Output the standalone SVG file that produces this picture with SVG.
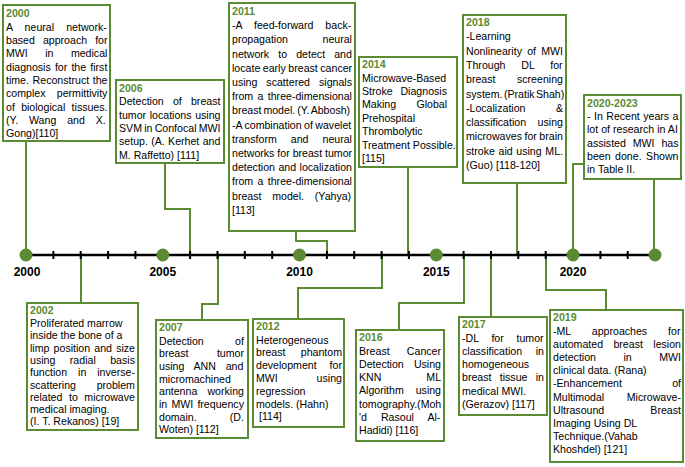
<svg xmlns="http://www.w3.org/2000/svg" width="685" height="467" viewBox="0 0 685 467">
<style>
.bg{fill:#fff}
.box{fill:#fff;stroke:#5a8a32;stroke-width:2}
text{font-family:"Liberation Sans",Arial,sans-serif;font-size:10.6px;fill:#000}
.h{font-weight:bold;fill:#5a8a32}
.yr{font-family:"Liberation Sans Narrow","Liberation Sans",Arial,sans-serif;font-weight:bold;font-size:12px;text-anchor:middle;fill:#000}
.conn{fill:none;stroke:#5a8a32;stroke-width:2}
.axis{stroke:#000;stroke-width:2.5}
.tick{stroke:#000;stroke-width:2}
.dot{fill:#5a8a32}
</style>
<rect class="bg" x="0" y="0" width="685" height="467"/>

<g id="connectors">
<path class="conn" d="M26,141V255"/>
<path class="conn" d="M165,163V209H190V255"/>
<path class="conn" d="M296,231V241H327V255"/>
<path class="conn" d="M408,167V255"/>
<path class="conn" d="M517,183V255"/>
<path class="conn" d="M584,164H573V255"/>
<path class="conn" d="M654,179V255"/>
<path class="conn" d="M81,255V303"/>
<path class="conn" d="M218,255V304H202V320"/>
<path class="conn" d="M382,255V288H298V319"/>
<path class="conn" d="M464,255V303H399V330"/>
<path class="conn" d="M491,255V317"/>
<path class="conn" d="M546,255V290H606V310"/>
</g>

<g id="timeline">
<line class="axis" x1="26" y1="255" x2="655" y2="255"/>
<path class="tick" d="M53.4,251V259M80.7,251V259M108.1,251V259M135.4,251V259M190.1,251V259M217.5,251V259M244.8,251V259M272.2,251V259M326.9,251V259M354.2,251V259M381.6,251V259M408.9,251V259M463.6,251V259M491,251V259M518.3,251V259M545.7,251V259M600.4,251V259M627.7,251V259"/>
<circle class="dot" cx="26" cy="255" r="6.5"/>
<circle class="dot" cx="162.8" cy="255" r="6.5"/>
<circle class="dot" cx="299.5" cy="255" r="6.5"/>
<circle class="dot" cx="436.3" cy="255" r="6.5"/>
<circle class="dot" cx="573" cy="255" r="6.5"/>
<circle class="dot" cx="655" cy="255" r="6.5"/>
<text class="yr" x="27" y="276">2000</text>
<text class="yr" x="162.8" y="276">2005</text>
<text class="yr" x="299.5" y="276">2010</text>
<text class="yr" x="436.3" y="276">2015</text>
<text class="yr" x="573" y="276">2020</text>
</g>

<g id="node-2000">
<rect class="box" x="3" y="5" width="107" height="136"/>
<text class="h" x="6" y="17">2000</text>
<text x="6" y="30.8" word-spacing="9.2">A neural network-</text>
<text x="6" y="44.1" word-spacing="5.1">based approach for</text>
<text x="6" y="57.4" word-spacing="14.5">MWI in medical</text>
<text x="6" y="70.7" word-spacing="1.2">diagnosis for the first</text>
<text x="6" y="84" word-spacing="0.7">time. Reconstruct the</text>
<text x="6" y="97.3" word-spacing="8.4">complex permittivity</text>
<text x="6" y="110.6" word-spacing="3.35">of biological tissues.</text>
<text x="6" y="123.9" word-spacing="7.9">(Y. Wang and X.</text>
<text x="6" y="137.2">Gong)[110]</text>
</g>

<g id="node-2006">
<rect class="box" x="116" y="80" width="108" height="83"/>
<text class="h" x="119" y="92">2006</text>
<text x="119" y="105.3" word-spacing="6.25">Detection of breast</text>
<text x="119" y="118.6" word-spacing="0.7">tumor locations using</text>
<text x="119" y="131.9" word-spacing="-0.7">SVM in Confocal MWI</text>
<text x="119" y="145.2" word-spacing="0.4">setup. (A. Kerhet and</text>
<text x="119" y="158.5">M. Raffetto) [111]</text>
</g>

<g id="node-2011">
<rect class="box" x="229" y="3" width="126" height="228"/>
<text class="h" x="232" y="15">2011</text>
<text x="232" y="29.2" word-spacing="9">-A feed-forward back-</text>
<text x="232" y="43.4" word-spacing="31.6">propagation neural</text>
<text x="232" y="57.6" word-spacing="6.2">network to detect and</text>
<text x="232" y="71.8" word-spacing="-0.4">locate early breast cancer</text>
<text x="232" y="86" word-spacing="6.1">using scattered signals</text>
<text x="232" y="100.2" word-spacing="1.4">from a three-dimensional</text>
<text x="232" y="114.4" word-spacing="-1">breast model. (Y. Abbosh)</text>
<text x="232" y="128.6" word-spacing="-0.5">-A combination of wavelet</text>
<text x="232" y="142.8" word-spacing="11.1">transform and neural</text>
<text x="232" y="157" word-spacing="0">networks for breast tumor</text>
<text x="232" y="171.2" word-spacing="0.5">detection and localization</text>
<text x="232" y="185.4" word-spacing="1.4">from a three-dimensional</text>
<text x="232" y="199.6" word-spacing="7.85">breast model. (Yahya)</text>
<text x="232" y="213.8">[113]</text>
</g>

<g id="node-2014">
<rect class="box" x="359" y="57" width="98" height="110"/>
<text class="h" x="362" y="68">2014</text>
<text x="362" y="81.5">Microwave-Based</text>
<text x="362" y="94.9" word-spacing="4.9">Stroke Diagnosis</text>
<text x="362" y="108.3" word-spacing="17.3">Making Global</text>
<text x="362" y="121.7">Prehospital</text>
<text x="362" y="135.1">Thrombolytic</text>
<text x="362" y="148.5">Treatment Possible.</text>
<text x="362" y="161.9">[115]</text>
</g>

<g id="node-2018">
<rect class="box" x="463" y="15" width="103" height="168"/>
<text class="h" x="466" y="26">2018</text>
<text x="466" y="40.3">-Learning</text>
<text x="466" y="54.6" word-spacing="2.25">Nonlinearity of MWI</text>
<text x="466" y="68.9" word-spacing="12.85">Through DL for</text>
<text x="466" y="83.2" word-spacing="18.6">breast screening</text>
<text x="466" y="97.5" word-spacing="-1.5">system. (Pratik Shah)</text>
<text x="466" y="111.8" word-spacing="27.5">-Localization &amp;</text>
<text x="466" y="126.1" word-spacing="8.6">classification using</text>
<text x="466" y="140.4" word-spacing="-0.4">microwaves for brain</text>
<text x="466" y="154.7" word-spacing="0.73">stroke aid using ML.</text>
<text x="466" y="169">(Guo) [118-120]</text>
</g>

<g id="node-2020-2023">
<rect class="box" x="584" y="95" width="97" height="84"/>
<text class="h" x="587" y="106.5">2020-2023</text>
<text x="587" y="120" word-spacing="0.5">- In Recent years a</text>
<text x="587" y="133.3" word-spacing="0.05">lot of research in AI</text>
<text x="587" y="146.6" word-spacing="3.95">assisted MWI has</text>
<text x="587" y="159.9" word-spacing="1.55">been done. Shown</text>
<text x="587" y="173.2">in Table II.</text>
</g>

<g id="node-2002">
<rect class="box" x="27" y="303" width="111" height="127"/>
<text class="h" x="30" y="314">2002</text>
<text x="30" y="327">Proliferated marrow</text>
<text x="30" y="339.3">inside the bone of a</text>
<text x="30" y="351.6" word-spacing="1.23">limp position and size</text>
<text x="30" y="363.9" word-spacing="11.55">using radial basis</text>
<text x="30" y="376.2" word-spacing="8">function in inverse-</text>
<text x="30" y="388.5" word-spacing="17.8">scattering problem</text>
<text x="30" y="400.8" word-spacing="3.6">related to microwave</text>
<text x="30" y="413.1">medical imaging.</text>
<text x="30" y="425.4">(I. T. Rekanos) [19]</text>
</g>

<g id="node-2007">
<rect class="box" x="156" y="320" width="92" height="118"/>
<text class="h" x="159" y="331">2007</text>
<text x="159" y="344.5" word-spacing="28.4">Detection of</text>
<text x="159" y="357.2" word-spacing="25.5">breast tumor</text>
<text x="159" y="369.9" word-spacing="6.85">using ANN and</text>
<text x="159" y="382.6">micromachined</text>
<text x="159" y="395.3" word-spacing="7.2">antenna working</text>
<text x="159" y="408" word-spacing="1.25">in MWI frequency</text>
<text x="159" y="420.7" word-spacing="30.2">domain. (D.</text>
<text x="159" y="433.4">Woten) [112]</text>
</g>

<g id="node-2012">
<rect class="box" x="253" y="319" width="91" height="108"/>
<text class="h" x="256" y="330">2012</text>
<text x="256" y="343.5">Heterogeneous</text>
<text x="256" y="356.3" word-spacing="12.4">breast phantom</text>
<text x="256" y="369.1" word-spacing="10">development for</text>
<text x="256" y="381.9" word-spacing="35.9">MWI using</text>
<text x="256" y="394.7">regression</text>
<text x="256" y="407.5">models. (Hahn)</text>
<text x="259" y="420.3">[114]</text>
</g>

<g id="node-2016">
<rect class="box" x="356" y="330" width="88" height="111"/>
<text class="h" x="359" y="341">2016</text>
<text x="359" y="354.5" word-spacing="14.3">Breast Cancer</text>
<text x="359" y="367.8" word-spacing="7.2">Detection Using</text>
<text x="359" y="381.1" word-spacing="42">KNN ML</text>
<text x="359" y="394.4" word-spacing="9">Algorithm using</text>
<text x="359" y="407.7">tomography.(Moh</text>
<text x="359" y="421" word-spacing="11.1">'d Rasoul Al-</text>
<text x="359" y="434.3">Hadidi) [116]</text>
</g>

<g id="node-2017">
<rect class="box" x="459" y="317" width="88" height="98"/>
<text class="h" x="462" y="328">2017</text>
<text x="462" y="341.5" word-spacing="9.8">-DL for tumor</text>
<text x="462" y="354.8" word-spacing="10.7">classification in</text>
<text x="462" y="368.1">homogeneous</text>
<text x="462" y="381.4" word-spacing="5.35">breast tissue in</text>
<text x="462" y="394.7">medical MWI.</text>
<text x="462" y="408">(Gerazov) [117]</text>
</g>

<g id="node-2019">
<rect class="box" x="550" y="310" width="133" height="152"/>
<text class="h" x="553" y="321">2019</text>
<text x="553" y="334.5" word-spacing="18">-ML approaches for</text>
<text x="553" y="347.7" word-spacing="7.45">automated breast lesion</text>
<text x="553" y="360.9" word-spacing="24.5">detection in MWI</text>
<text x="553" y="374.1">clinical data. (Rana)</text>
<text x="553" y="387.3" word-spacing="47.3">-Enhancement of</text>
<text x="553" y="400.5" word-spacing="19.6">Multimodal Microwave-</text>
<text x="553" y="413.7" word-spacing="43.2">Ultrasound Breast</text>
<text x="553" y="426.9">Imaging Using DL</text>
<text x="553" y="440.1">Technique.(Vahab</text>
<text x="553" y="453.3">Khoshdel) [121]</text>
</g>
</svg>
